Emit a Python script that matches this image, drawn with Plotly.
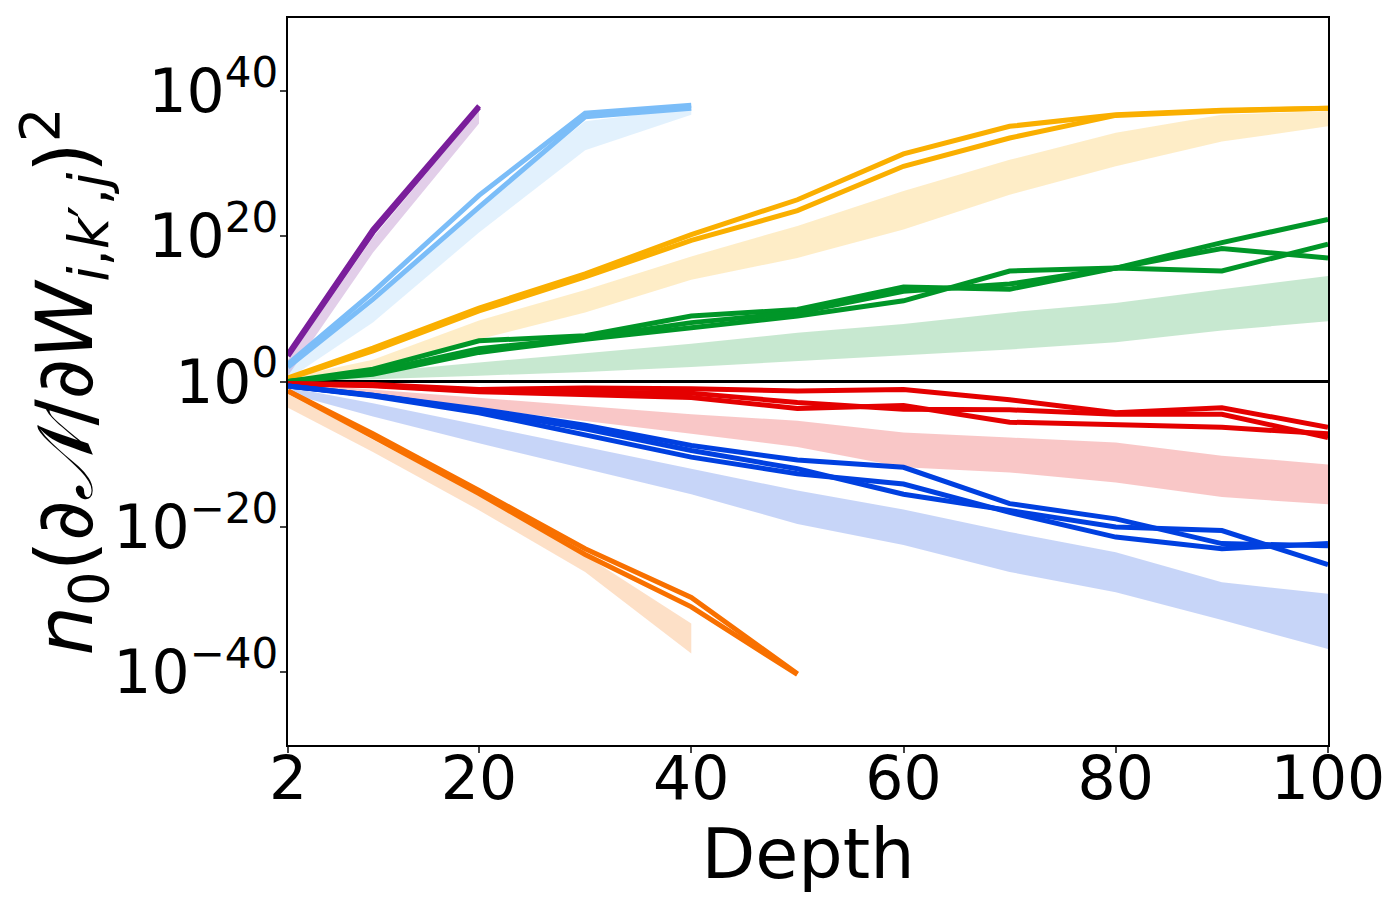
import plotly.graph_objects as go

# depths at which everything was measured
depth = [2, 10, 20, 30, 40, 50, 60, 70, 80, 90, 100]

# log10 of the measured value, per colour (2 or 3 runs each)
purple_runs = [[3.8, 20.9, 37.9],
               [3.5, 20.5, 37.7]]
purple_lo = [0.8, 17.7, 35.5]
purple_hi = [3.0, 19.8, 37.3]

lightblue_runs = [[2.4, 12.3, 25.6, 36.9, 38.0],
                  [2.0, 11.3, 24.0, 36.4, 37.6]]
lightblue_lo = [0.3, 8.1, 20.5, 31.8, 36.7]
lightblue_hi = [2.0, 10.8, 24.2, 35.8, 37.6]

yellow_runs = [[0.5, 4.6, 10.1, 14.8, 20.2, 25.0, 31.3, 35.1, 36.7, 37.3, 37.6],
               [0.4, 4.2, 9.7, 14.4, 19.4, 23.5, 29.6, 33.5, 36.6, 37.2, 37.6]]
yellow_lo = [0.0, 1.2, 5.8, 9.5, 14.0, 17.0, 20.9, 25.7, 29.6, 33.0, 35.1]
yellow_hi = [0.5, 3.0, 8.4, 12.6, 17.2, 21.4, 26.2, 30.5, 34.2, 36.7, 37.2]

green_runs = [[0, 1.7, 5.6, 6.3, 9.0, 9.9, 13.0, 12.7, 15.6, 18.3, 17.0],
              [0, 1.0, 4.0, 5.8, 7.4, 9.0, 11.1, 15.2, 15.6, 15.2, 18.9],
              [0, 1.3, 4.5, 6.0, 8.1, 9.5, 12.4, 13.4, 15.6, 19.1, 22.3]]
green_lo = [0.0, 0.3, 0.8, 1.3, 2.0, 2.8, 3.7, 4.4, 5.4, 7.0, 8.3]
green_hi = [0.2, 1.3, 2.6, 3.9, 5.2, 6.7, 7.9, 9.5, 10.8, 12.7, 14.5]

red_runs = [[-0.3, -0.4, -1.1, -0.9, -1.0, -1.3, -1.1, -2.5, -4.3, -3.6, -6.3],
            [-0.3, -0.5, -1.3, -1.5, -1.6, -2.9, -3.8, -3.9, -4.5, -4.5, -7.7],
            [-0.3, -0.6, -1.4, -1.8, -2.2, -3.7, -3.3, -5.6, -6.0, -6.3, -7.2]]
red_lo = [-0.9, -2.0, -3.7, -5.4, -7.2, -9.0, -11.8, -12.5, -13.9, -15.9, -16.9]
red_hi = [-0.2, -1.1, -2.2, -3.3, -4.5, -5.4, -7.0, -7.7, -8.4, -10.2, -11.4]

blue_runs = [[-0.6, -1.9, -3.8, -6.0, -8.8, -10.8, -11.8, -16.8, -18.9, -22.3, -22.6],
             [-0.6, -1.9, -4.0, -6.5, -9.5, -12.0, -15.5, -17.8, -20.0, -20.5, -25.2],
             [-0.6, -2.0, -4.3, -7.3, -10.4, -12.7, -14.1, -18.0, -21.4, -23.0, -22.3]]
blue_lo = [-1.6, -4.8, -8.5, -12.0, -15.5, -19.6, -22.5, -26.2, -29.0, -32.8, -36.8]
blue_hi = [-0.8, -3.0, -6.0, -9.0, -12.0, -15.0, -17.6, -20.7, -23.5, -27.6, -29.2]

orange_runs = [[-1.3, -7.2, -15.0, -23.0, -29.7, -40.2],
               [-1.3, -7.6, -15.4, -23.8, -31.0, -40.3]]
orange_lo = [-3.6, -9.7, -17.7, -26.2, -37.4]
orange_hi = [-1.5, -8.0, -15.6, -23.9, -33.3]

ytick_vals = [-40, -20, 0, 20, 40]
ytick_text = ['10<sup>\u221240</sup>', '10<sup>\u221220</sup>', '10<sup>0</sup>',
              '10<sup>20</sup>', '10<sup>40</sup>']
xtick_vals = [2, 20, 40, 60, 80, 100]

groups = [
    (purple_runs, purple_lo, purple_hi, 'rgb(122,30,155)'),
    (lightblue_runs, lightblue_lo, lightblue_hi, 'rgb(123,189,248)'),
    (yellow_runs, yellow_lo, yellow_hi, 'rgb(250,175,0)'),
    (green_runs, green_lo, green_hi, 'rgb(0,150,40)'),
    (red_runs, red_lo, red_hi, 'rgb(228,0,0)'),
    (blue_runs, blue_lo, blue_hi, 'rgb(0,64,224)'),
    (orange_runs, orange_lo, orange_hi, 'rgb(248,112,0)'),
]


def pw(vals):
    return [10.0 ** v for v in vals]


def rgba(c, a):
    return c.replace('rgb', 'rgba').replace(')', ',%s)' % a)


fig = go.Figure()

# shaded bands first
for runs, lo, hi, col in groups:
    xs = depth[:len(lo)]
    fig.add_trace(go.Scatter(x=xs, y=pw(lo), mode='lines', line=dict(width=0),
                             hoverinfo='skip', showlegend=False))
    fig.add_trace(go.Scatter(x=xs, y=pw(hi), mode='lines', line=dict(width=0),
                             fill='tonexty', fillcolor=rgba(col, 0.22),
                             hoverinfo='skip', showlegend=False))

# reference line at 1
fig.add_trace(go.Scatter(x=[2, 100], y=[1, 1], mode='lines',
                         line=dict(color='black', width=3), showlegend=False))

for runs, lo, hi, col in groups:
    for r in runs:
        fig.add_trace(go.Scatter(x=depth[:len(r)], y=pw(r), mode='lines',
                                 line=dict(color=col, width=5), showlegend=False))

fig.update_layout(
    width=1400, height=900,
    margin=dict(l=280, r=80, t=8, b=163),
    paper_bgcolor='white', plot_bgcolor='white',
    font=dict(family='DejaVu Sans', color='black'),
    showlegend=False,
)
fig.update_xaxes(range=[2, 100], tickvals=xtick_vals,
                 tickfont=dict(size=60), ticks='outside', ticklen=6, tickwidth=1.5,
                 ticklabelstandoff=-26,
                 showline=True, linecolor='black', linewidth=1.5, mirror=True,
                 showgrid=False, zeroline=False,
                 title=dict(text='Depth', font=dict(size=70), standoff=0))
fig.update_yaxes(type='log', range=[-50, 50], tickvals=pw(ytick_vals), ticktext=ytick_text,
                 tickfont=dict(size=60), ticks='outside', ticklen=6, tickwidth=1.5,
                 ticklabelstandoff=-10,
                 showline=True, linecolor='black', linewidth=1.5, mirror=True,
                 showgrid=False, zeroline=False,
                 title=dict(text='<i>n</i><sub>0</sub>(\u2202<i>\U0001D4A9</i>/\u2202<i>W</i>'
                                 '<sub><i>i</i>,<i>k</i>\u2032,<i>j</i></sub>)<sup>2</sup>',
                            font=dict(size=78), standoff=6))

fig.write_html("out.html")
